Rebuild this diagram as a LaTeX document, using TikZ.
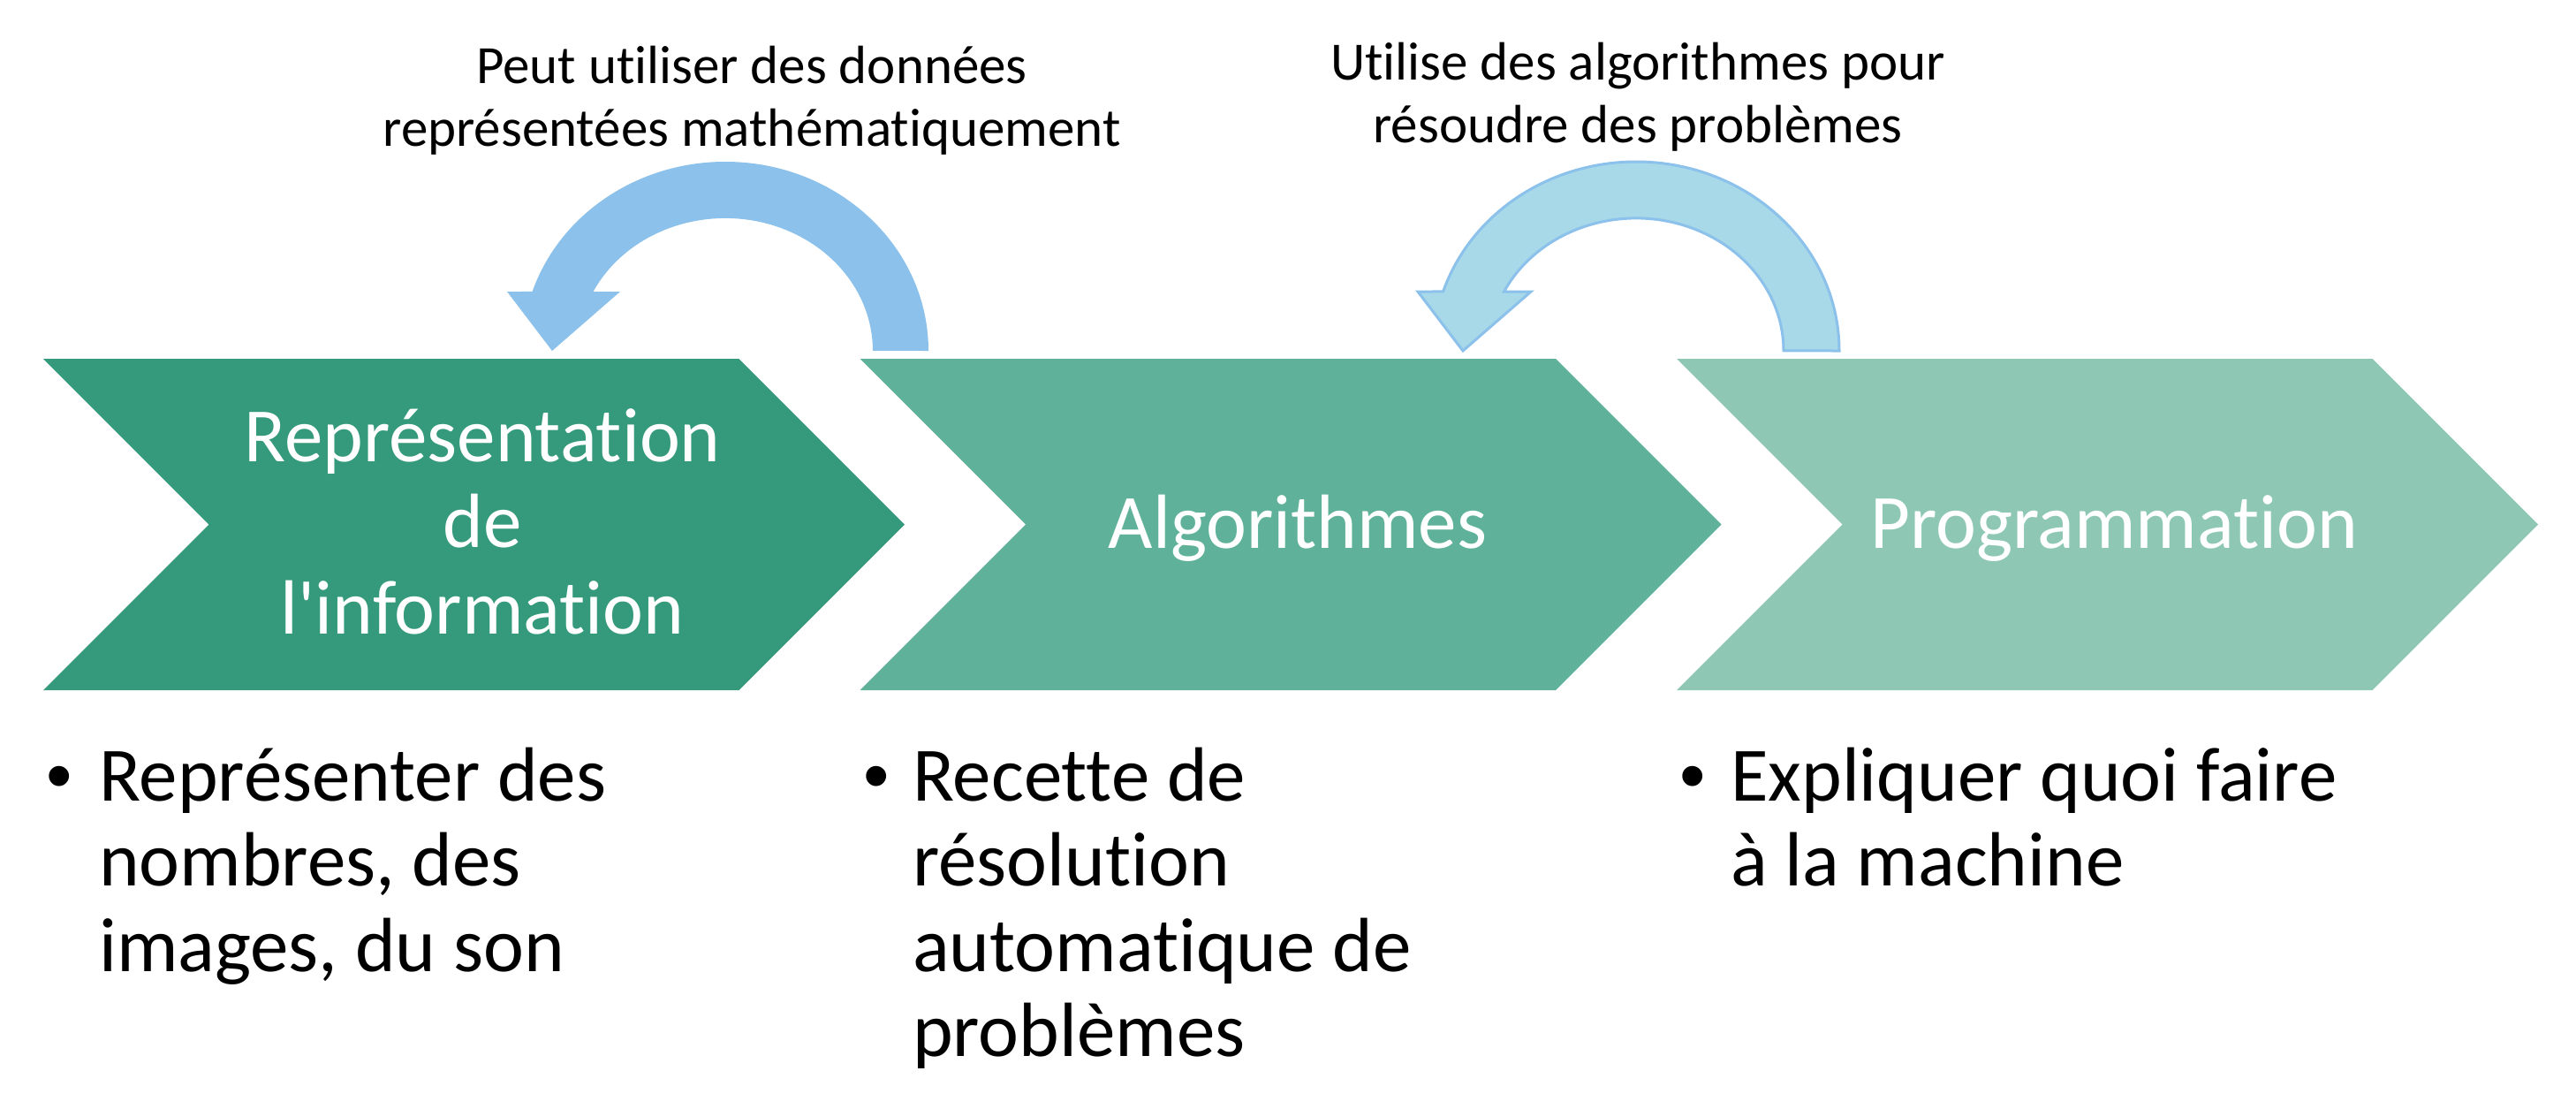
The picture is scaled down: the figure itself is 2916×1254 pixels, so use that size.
\documentclass[tikz,border=0pt]{standalone}
\usepackage{fontspec}
\setmainfont{Carlito}[Ligatures={TeXOff,CommonOff}]
\newfontfamily\bulletfont{Liberation Sans}
\definecolor{chA}{HTML}{359A7C}
\definecolor{chB}{HTML}{5FB299}
\definecolor{chC}{HTML}{8EC8B5}
\definecolor{arrA}{HTML}{8BC1EA}
\definecolor{arrB}{HTML}{A7D9E9}
\tikzset{
  chevron/.pic={\path[pic actions] (0,406) -- (787.5,406) -- (975,593.5) -- (787.5,781) -- (0,781) -- (187.5,593.5) -- cycle;},
  circarrow/.pic={\path[pic actions] (230,0) arc[start angle=0,end angle=-161.75,x radius=230,y radius=214]
      -- (-247,-67) -- (-196,0) -- (-119,-67) -- (-149.45,-67)
      arc[start angle=-153.5,end angle=0,x radius=167,y radius=150] -- cycle;},
  lbl/.style={inner sep=0pt, anchor=base, font=\fontsize{61}{71}\selectfont},
  chtext/.style={inner sep=0pt, anchor=base, text=white, font=\fontsize{87}{97.5}\selectfont},
  bultext/.style={inner sep=0pt, anchor=base west, font=\fontsize{87}{96.5}\selectfont},
  bulmark/.style={inner sep=0pt, anchor=base, font=\bulletfont\fontsize{84}{96}\selectfont},
}
\begin{document}
\begin{tikzpicture}[x=1pt,y=-1pt]
\useasboundingbox (0,0) rectangle (2916,1254);
\fill[white] (0,0) rectangle (2916,1254);
% chevrons
\pic[fill=chA] at (49,0) {chevron};
\pic[fill=chB] at (973.5,0) {chevron};
\pic[fill=chC] at (1898,0) {chevron};
% circular arrows
\pic[fill=arrA] at (821,397) {circarrow};
\pic[fill=arrB, draw=arrA, line width=3pt, line join=miter] at (1852,397) {circarrow};
% labels above
\node[lbl] (lab1) at (851,94) {\parbox[t]{1000pt}{\centering Peut utiliser des données\\représentées mathématiquement}};
\node[lbl] (lab2) at (1854,90) {\parbox[t]{1000pt}{\centering Utilise des algorithmes pour\\résoudre des problèmes}};
% chevron texts
\node[chtext] (c1) at (546,522) {\parbox[t]{800pt}{\centering Représentation\\de\\l'information}};
\node[chtext] (c2) at (1469,620) {Algorithmes};
\node[chtext] (c3) at (2393,620) {Programmation};
% bullets
\node[bulmark] (b1) at (67,906) {•};
\node[bultext] (t1) at (112,906) {\parbox[t]{850pt}{\raggedright Représenter des\\nombres, des\\images, du son}};
\node[bulmark] (b2) at (992,906) {•};
\node[bultext] (t2) at (1033,906) {\parbox[t]{850pt}{\raggedright Recette de\\résolution\\automatique de\\problèmes}};
\node[bulmark] (b3) at (1916,906) {•};
\node[bultext] (t3) at (1959,906) {\parbox[t]{850pt}{\raggedright Expliquer quoi faire\\à la machine}};
\end{tikzpicture}
\end{document}
